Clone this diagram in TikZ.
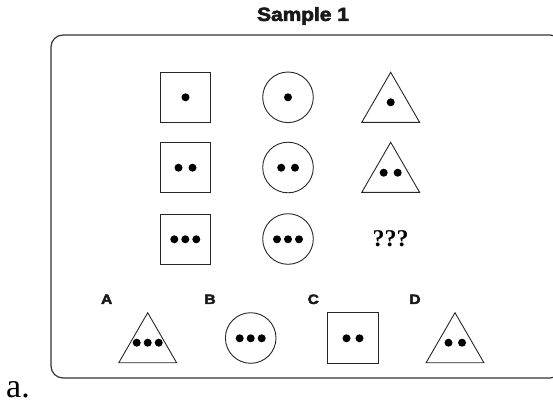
\documentclass[tikz,border=0pt]{standalone}
\usepackage{fontspec}
\setmainfont{Liberation Serif}
\newfontfamily\heavyfont[FakeBold=3]{Liberation Sans Bold}
\begin{document}
\begin{tikzpicture}[x=1pt,y=-1pt,
  shapeline/.style={draw=black!85, line width=0.9pt},
  framebox/.style={draw=black!80, line width=1.2pt, rounded corners=12pt},
  dot/.style={fill=black},
  tag/.style={font=\heavyfont\fontsize{13.5}{16}\selectfont, text=black!90, inner sep=0pt, xscale=1.15},
  pics/tri/.style={code={\draw[shapeline] (0,0) -- (-28.9,50) -- (28.9,50) -- cycle;}}]
\useasboundingbox (0,0) rectangle (553,404);

% heading
\node[font=\heavyfont\fontsize{19}{22}\selectfont, text=black!90, inner sep=0pt, xscale=1.1] (title) at (303,16) {Sample 1};

% surrounding frame, its right side running past the page edge
\begin{scope}
  \clip (0,0) rectangle (553,404);
  \draw[framebox] (51,35) rectangle (562,378);
\end{scope}

% column of squares
\draw[shapeline] (160,72.3) rectangle (210.7,122.3);
\draw[shapeline] (160,142.3) rectangle (210.7,192.7);
\draw[shapeline] (160,214) rectangle (210.7,264);
\fill[dot] (185.5,97.3) circle (4);
\fill[dot] (178.5,167.7) circle (4);
\fill[dot] (192.5,167.7) circle (4);
\fill[dot] (174.3,239.3) circle (4);
\fill[dot] (185.3,239.3) circle (4);
\fill[dot] (196.3,239.3) circle (4);

% column of circles
\draw[shapeline] (288,97.3) circle (25.3);
\draw[shapeline] (288,167.5) circle (25.3);
\draw[shapeline] (288,239) circle (25.3);
\fill[dot] (288,97.3) circle (4);
\fill[dot] (281.2,167.7) circle (4);
\fill[dot] (295,167.7) circle (4);
\fill[dot] (277,239.3) circle (4);
\fill[dot] (288,239.3) circle (4);
\fill[dot] (299,239.3) circle (4);

% column of triangles
\pic at (390.7,72.3) {tri};
\pic at (390.7,142.3) {tri};
\fill[dot] (390.7,102.3) circle (4);
\fill[dot] (383.7,172.7) circle (4);
\fill[dot] (397.7,172.7) circle (4);
\node[font=\bfseries\fontsize{24}{28}\selectfont, inner sep=0pt] (missing) at (390.7,239) {???};

% answer choices
\node[tag] (la) at (106.7,299.3) {A};
\node[tag] (lb) at (210,299.3) {B};
\node[tag] (lc) at (313.3,299.3) {C};
\node[tag] (ld) at (415,299.3) {D};

\pic at (147.7,312.7) {tri};
\fill[dot] (136.7,342.7) circle (4);
\fill[dot] (147.7,342.7) circle (4);
\fill[dot] (158.7,342.7) circle (4);

\draw[shapeline] (250.7,338) circle (25.3);
\fill[dot] (239.7,338.3) circle (4);
\fill[dot] (250.7,338.3) circle (4);
\fill[dot] (261.7,338.3) circle (4);

\draw[shapeline] (327.7,312.7) rectangle (378.3,363.3);
\fill[dot] (346.5,338.3) circle (4);
\fill[dot] (359.5,338.3) circle (4);

\pic at (455,312.7) {tri};
\fill[dot] (448.5,342.7) circle (4);
\fill[dot] (462,342.7) circle (4);

% item label
\node[font=\fontsize{34}{38}\selectfont, anchor=base west, inner sep=0pt] (item) at (6,397) {a.};
\end{tikzpicture}
\end{document}
